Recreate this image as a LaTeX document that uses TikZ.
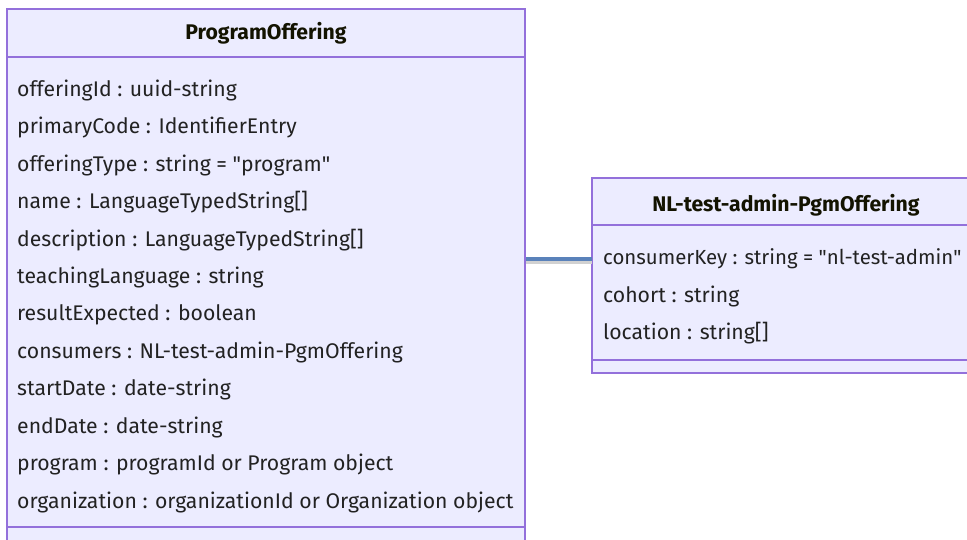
\documentclass[tikz,border=0pt]{standalone}
\usepackage{fontspec}
\setmainfont{Fira Sans}
\begin{document}
\begin{tikzpicture}[x=1pt,y=-1pt,
  box/.style={draw=boxline,fill=boxfill,line width=1.3pt,inner sep=0pt,minimum width=0pt},
  divider/.style={draw=boxline,line width=1.3pt},
  attr/.style={anchor=west,inner sep=0pt,text=txt,font=\fontsize{21.2}{24}\selectfont},
  head/.style={inner sep=0pt,text=headtxt,font=\fontsize{21.2}{24}\selectfont\bfseries},
  conn/.style={draw=connblue,line width=4pt}]
\definecolor{boxfill}{HTML}{ECECFF}
\definecolor{boxline}{HTML}{9370DB}
\definecolor{txt}{HTML}{222222}
\definecolor{headtxt}{HTML}{131300}
\definecolor{connblue}{HTML}{5A82BA}
\useasboundingbox (0,0) rectangle (967,539);
\clip (0,0) rectangle (967,539);
\fill[white] (0,0) rectangle (967,539);
% left class
\path[box] (7,9) rectangle (525,560);
\node[box,draw=none,fill=none,minimum width=518pt,minimum height=551pt,anchor=north west] (po) at (7,9) {};
\draw[divider] (7,57) -- (525,57);
\draw[divider] (7,527) -- (525,527);
\node[head] (poh) at (266,33) {ProgramOffering};
\node[attr] (a1) at (17,90) {offeringId : uuid-string};
\node[attr] (a2) at (17,127.5) {primaryCode : IdentifierEntry};
\node[attr] (a3) at (17,165) {offeringType : string = \textquotedbl program\textquotedbl};
\node[attr] (a4) at (17,202.5) {name : LanguageTypedString[]};
\node[attr] (a5) at (17,240) {description : LanguageTypedString[]};
\node[attr] (a6) at (17,277) {teachingLanguage : string};
\node[attr] (a7) at (17,314.5) {resultExpected : boolean};
\node[attr] (a8) at (17,352) {consumers : NL-test-admin-PgmOffering};
\node[attr] (a9) at (17,389.5) {startDate : date-string};
\node[attr] (a10) at (17,427) {endDate : date-string};
\node[attr] (a11) at (17,464.5) {program : programId or Program object};
\node[attr] (a12) at (17,502) {organization : organizationId or Organization object};
% right class
\path[box] (592,178) rectangle (980,373);
\node[box,draw=none,fill=none,minimum width=388pt,minimum height=195pt,anchor=north west] (nl) at (592,178) {};
\draw[divider] (592,225) -- (980,225);
\draw[divider] (592,360) -- (980,360);
\node[head] (nlh) at (786,205) {NL-test-admin-PgmOffering};
\node[attr,font=\fontsize{20.4}{24}\selectfont] (b1) at (603,259) {consumerKey : string = \textquotedbl nl-test-admin\textquotedbl};
\node[attr] (b2) at (603,296) {cohort : string};
\node[attr] (b3) at (603,333) {location : string[]};
% connector
\draw[draw=black!18,line width=4pt] ([yshift=-3pt]po.east |- b1) -- ([yshift=-3pt]nl.west |- b1);
\draw[conn] (po.east |- b1) -- (nl.west |- b1);
\end{tikzpicture}
\end{document}
